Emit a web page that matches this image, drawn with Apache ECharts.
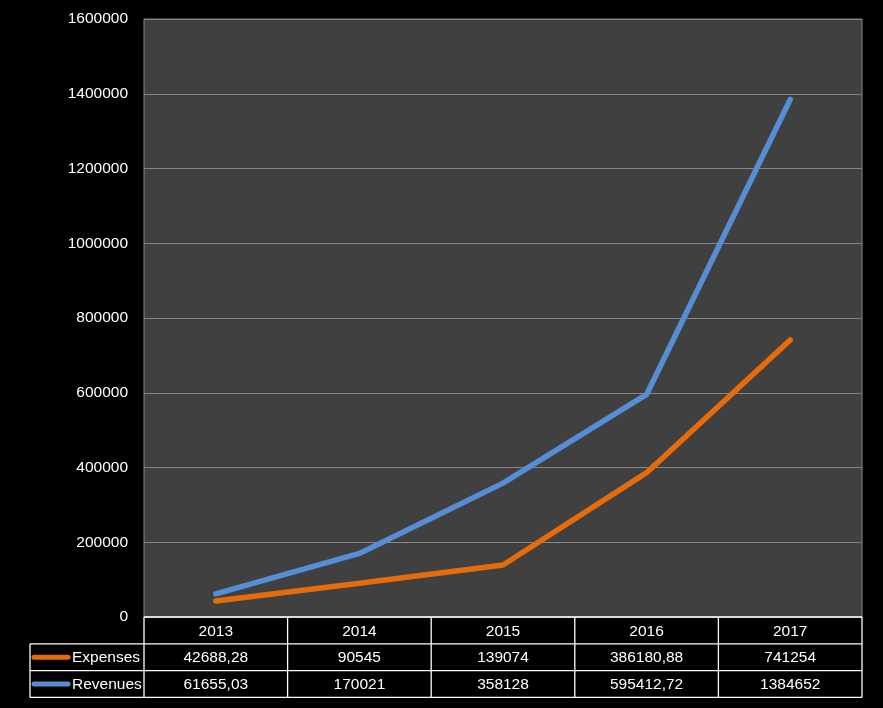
<!DOCTYPE html>
<html>
<head>
<meta charset="utf-8">
<script src="https://cdn.jsdelivr.net/npm/echarts@6/dist/echarts.min.js"></script>
<style>
html,body{margin:0;padding:0;background:#000;}
#c{width:883px;height:708px;}
</style>
</head>
<body>
<div id="c"></div>
<script>
const years = ['2013', '2014', '2015', '2016', '2017'];
const expenses = [42688.28, 90545, 139074, 386180.88, 741254];
const revenues = [61655.03, 170021, 358128, 595412.72, 1384652];
const seriesNames = ['Expenses', 'Revenues'];
const seriesColors = ['#E46C0A', '#558ED5'];
const yTicks = { min: 0, max: 1600000, interval: 200000 };

const FONT = 'Liberation Sans';
const FS = 15.5;
const G = { left: 144, top: 19, right: 862, bottom: 617 };
const rowH = 26.8;
const tableLeft = 30;

function fmt(v) { return String(v).replace('.', ','); }

const chart = echarts.init(document.getElementById('c'));
const allData = [expenses, revenues];

const graphics = [];
const colW = (G.right - G.left) / years.length;
const lineStyle = { stroke: '#ffffff', lineWidth: 1.3 };
function hline(x1, x2, y) { graphics.push({ type: 'line', shape: { x1, y1: y, x2, y2: y }, style: lineStyle, z: 10 }); }
function vline(x, y1, y2) { graphics.push({ type: 'line', shape: { x1: x, y1, x2: x, y2 }, style: lineStyle, z: 10 }); }
function txt(text, x, y, align, fill) {
  graphics.push({ type: 'text', x, y, z: 11, style: { text, fill: fill || '#ffffff', font: FS + 'px "' + FONT + '"', align: align || 'center', verticalAlign: 'middle' } });
}
const y0 = G.bottom, y1 = y0 + rowH, y2 = y1 + rowH, y3 = y2 + rowH;
hline(G.left, G.right, y0);
hline(tableLeft, G.right, y1);
hline(tableLeft, G.right, y2);
hline(tableLeft, G.right, y3);
vline(tableLeft, y1, y3);
for (let i = 0; i <= years.length; i++) vline(G.left + i * colW, y0, y3);
years.forEach((yr, i) => txt(yr, G.left + (i + 0.5) * colW, (y0 + y1) / 2 + 1));
allData.forEach((arr, r) => {
  const yc = (r === 0 ? (y1 + y2) : (y2 + y3)) / 2 + 1;
  arr.forEach((v, i) => txt(fmt(v), G.left + (i + 0.5) * colW, yc));
  graphics.push({ type: 'line', shape: { x1: 34, y1: yc - 1, x2: 68, y2: yc - 1 }, style: { stroke: seriesColors[r], lineWidth: 5, lineCap: 'round' }, z: 11 });
  txt(seriesNames[r], 72, yc, 'left');
});

chart.setOption({
  backgroundColor: '#000000',
  animation: false,
  grid: { left: G.left, top: G.top, right: 883 - G.right, bottom: 708 - G.bottom, show: true, backgroundColor: '#404040', borderColor: '#868686', borderWidth: 1 },
  xAxis: { type: 'category', data: years, boundaryGap: true, axisLabel: { show: false }, axisTick: { show: false }, axisLine: { show: false } },
  yAxis: {
    type: 'value', min: yTicks.min, max: yTicks.max, interval: yTicks.interval,
    axisLine: { show: false }, axisTick: { show: false },
    axisLabel: { color: '#ffffff', fontFamily: FONT, fontSize: FS, margin: 16, formatter: v => String(v) },
    splitLine: { lineStyle: { color: '#868686', width: 1 } }
  },
  series: seriesNames.map((n, i) => ({
    name: n, type: 'line', data: allData[i], symbol: 'none',
    lineStyle: { color: seriesColors[i], width: 5.5, cap: 'round', join: 'round' },
    itemStyle: { color: seriesColors[i] }, z: 3 - i
  })),
  graphic: graphics
});
</script>
</body>
</html>
